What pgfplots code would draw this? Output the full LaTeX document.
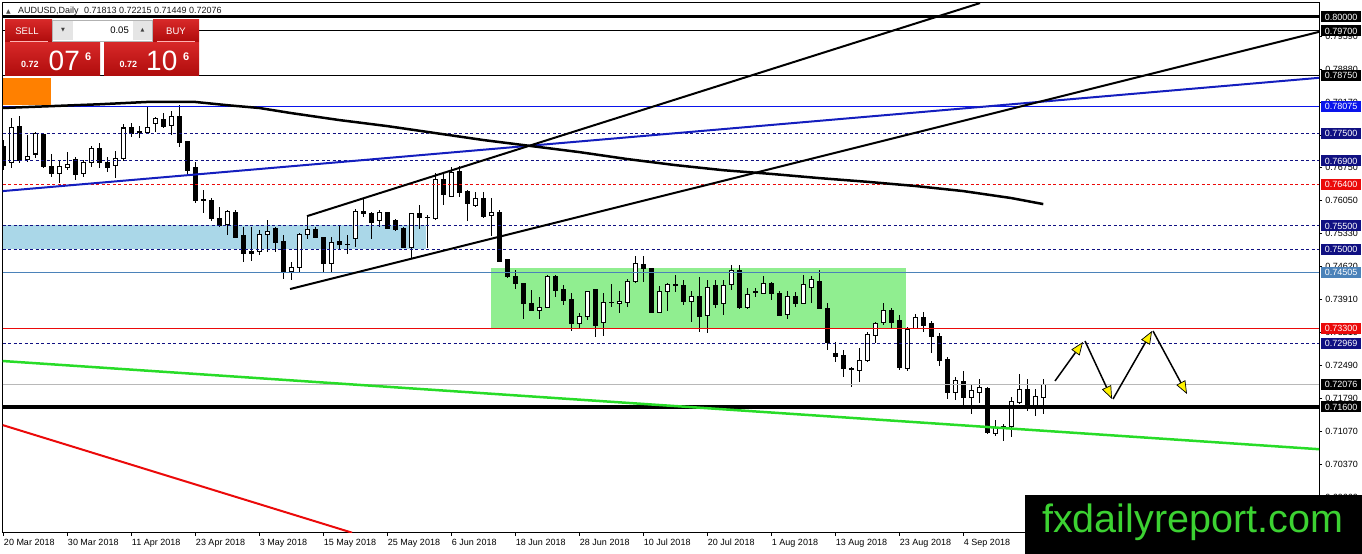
\documentclass[border=0pt]{standalone}
\usepackage{fontspec}
\setmainfont{Liberation Sans}
\newfontfamily\dejavu{DejaVu Sans}
\usepackage{pgfplots}
\usepackage{pgfplotstable}
\pgfplotsset{compat=1.18}
\usetikzlibrary{arrows.meta}
\definecolor{mtnavy}{RGB}{16,16,130}
\definecolor{mtblue}{RGB}{10,20,235}
\definecolor{mttrend}{RGB}{20,30,190}
\definecolor{mtsteel}{RGB}{75,130,185}
\definecolor{mtred}{RGB}{235,10,10}
\definecolor{mtgreen}{RGB}{40,220,40}
\definecolor{boxblue}{RGB}{170,215,232}
\definecolor{boxgreen}{RGB}{144,238,144}
\definecolor{redtop}{RGB}{215,40,40}
\definecolor{redbot}{RGB}{175,12,12}
\definecolor{wmgreen}{RGB}{60,210,50}
\newcommand\fs{\fontsize{9bp}{11bp}\selectfont}

\pgfplotstableread{
i o h l c
1 0.7686 0.7782 0.7675 0.7763
3 0.7692 0.7746 0.7688 0.7699
4 0.7705 0.7752 0.7696 0.7750
7 0.7664 0.7690 0.7642 0.7677
8 0.7675 0.7709 0.7670 0.7683
10 0.7662 0.7692 0.7655 0.7686
11 0.7686 0.7722 0.7677 0.7716
14 0.7681 0.7711 0.7653 0.7696
15 0.7696 0.7770 0.7690 0.7761
18 0.7752 0.7808 0.7750 0.7763
19 0.7770 0.7785 0.7752 0.7782
21 0.7767 0.7797 0.7746 0.7785
28 0.7554 0.7584 0.7530 0.7582
32 0.7494 0.7541 0.7487 0.7532
33 0.7532 0.7563 0.7494 0.7539
36 0.7451 0.7472 0.7434 0.7461
37 0.7461 0.7535 0.7451 0.7532
38 0.7532 0.7569 0.7522 0.7543
41 0.7470 0.7526 0.7448 0.7515
44 0.7522 0.7586 0.7504 0.7582
47 0.7561 0.7584 0.7548 0.7578
51 0.7504 0.7578 0.7478 0.7576
54 0.7565 0.7664 0.7563 0.7649
56 0.7614 0.7677 0.7612 0.7666
59 0.7593 0.7623 0.7591 0.7610
61 0.7573 0.7610 0.7528 0.7578
67 0.7367 0.7397 0.7349 0.7375
68 0.7375 0.7444 0.7375 0.7442
72 0.7339 0.7362 0.7330 0.7354
73 0.7354 0.7410 0.7347 0.7408
75 0.7341 0.7405 0.7313 0.7386
77 0.7384 0.7410 0.7362 0.7388
78 0.7386 0.7436 0.7375 0.7431
79 0.7431 0.7485 0.7427 0.7468
82 0.7364 0.7421 0.7362 0.7408
83 0.7408 0.7427 0.7367 0.7423
86 0.7388 0.7410 0.7343 0.7399
88 0.7356 0.7434 0.7319 0.7418
90 0.7382 0.7434 0.7358 0.7421
91 0.7423 0.7466 0.7412 0.7455
93 0.7375 0.7416 0.7371 0.7403
95 0.7405 0.7442 0.7405 0.7425
98 0.7360 0.7410 0.7349 0.7397
100 0.7384 0.7444 0.7384 0.7423
101 0.7418 0.7442 0.7384 0.7434
107 0.7238 0.7287 0.7214 0.7261
108 0.7261 0.7321 0.7257 0.7317
109 0.7315 0.7343 0.7298 0.7339
110 0.7343 0.7384 0.7336 0.7367
113 0.7244 0.7332 0.7238 0.7328
114 0.7330 0.7360 0.7330 0.7352
119 0.7192 0.7225 0.7175 0.7216
121 0.7180 0.7210 0.7145 0.7195
122 0.7192 0.7220 0.7169 0.7201
124 0.7104 0.7132 0.7098 0.7115
126 0.7117 0.7182 0.7095 0.7171
127 0.7169 0.7231 0.7167 0.7197
129 0.7156 0.7199 0.7141 0.7182
130 0.71813 0.72215 0.71449 0.72076
}\bull

\pgfplotstableread{
i o h l c
0 0.7720 0.7735 0.7670 0.7681
2 0.7765 0.7787 0.7686 0.7690
5 0.7748 0.7750 0.7675 0.7677
6 0.7679 0.7705 0.7655 0.7664
9 0.7692 0.7699 0.7649 0.7660
12 0.7716 0.7729 0.7675 0.7686
13 0.7686 0.7699 0.7666 0.7675
16 0.7761 0.7772 0.7742 0.7750
17 0.7754 0.7765 0.7739 0.7752
20 0.7780 0.7793 0.7761 0.7765
22 0.7785 0.7810 0.7720 0.7729
23 0.7731 0.7731 0.7660 0.7670
24 0.7675 0.7688 0.7599 0.7604
25 0.7606 0.7627 0.7578 0.7604
26 0.7604 0.7610 0.7561 0.7565
27 0.7565 0.7591 0.7548 0.7552
29 0.7578 0.7584 0.7526 0.7526
30 0.7530 0.7548 0.7472 0.7491
31 0.7494 0.7548 0.7474 0.7491
34 0.7545 0.7548 0.7494 0.7515
35 0.7517 0.7530 0.7436 0.7451
39 0.7543 0.7548 0.7524 0.7526
40 0.7526 0.7526 0.7448 0.7470
42 0.7517 0.7550 0.7500 0.7511
43 0.7511 0.7530 0.7489 0.7511
45 0.7582 0.7608 0.7569 0.7576
46 0.7576 0.7580 0.7522 0.7558
48 0.7578 0.7580 0.7545 0.7545
49 0.7561 0.7565 0.7539 0.7543
50 0.7545 0.7548 0.7504 0.7504
52 0.7576 0.7595 0.7543 0.7569
53 0.7569 0.7573 0.7502 0.7569
55 0.7649 0.7664 0.7595 0.7617
57 0.7668 0.7679 0.7612 0.7623
58 0.7625 0.7627 0.7561 0.7599
60 0.7610 0.7623 0.7567 0.7571
62 0.7578 0.7584 0.7472 0.7474
63 0.7478 0.7478 0.7438 0.7440
64 0.7442 0.7455 0.7414 0.7425
65 0.7425 0.7427 0.7349 0.7382
66 0.7382 0.7412 0.7367 0.7367
69 0.7442 0.7444 0.7397 0.7412
70 0.7414 0.7423 0.7380 0.7390
71 0.7392 0.7405 0.7324 0.7339
74 0.7414 0.7414 0.7311 0.7336
76 0.7386 0.7425 0.7375 0.7386
80 0.7468 0.7485 0.7429 0.7459
81 0.7459 0.7459 0.7362 0.7364
84 0.7423 0.7444 0.7408 0.7423
85 0.7421 0.7434 0.7380 0.7388
87 0.7397 0.7440 0.7321 0.7356
89 0.7421 0.7434 0.7373 0.7380
92 0.7455 0.7466 0.7371 0.7375
94 0.7408 0.7416 0.7397 0.7408
96 0.7425 0.7429 0.7390 0.7405
97 0.7405 0.7410 0.7358 0.7358
99 0.7397 0.7408 0.7375 0.7384
102 0.7431 0.7455 0.7373 0.7373
103 0.7373 0.7384 0.7283 0.7298
104 0.7276 0.7300 0.7257 0.7268
105 0.7270 0.7283 0.7225 0.7242
106 0.7242 0.7246 0.7203 0.7242
111 0.7367 0.7373 0.7330 0.7343
112 0.7347 0.7358 0.7240 0.7246
115 0.7352 0.7364 0.7321 0.7336
116 0.7339 0.7345 0.7276 0.7311
117 0.7311 0.7319 0.7248 0.7261
118 0.7263 0.7268 0.7177 0.7192
120 0.7216 0.7238 0.7164 0.7180
123 0.7199 0.7203 0.7102 0.7104
125 0.7119 0.7123 0.7087 0.7119
128 0.7197 0.7220 0.7151 0.7156
}\bear

\pgfplotsset{
  candleerr/.style 2 args={draw=none, forget plot,
    error bars/.cd, y dir=both, y explicit, error mark=none,
    error bar style={draw=#1, line width=#2, solid, line cap=butt}},
  hline/.style={forget plot, line cap=butt},
}
\tikzset{lbl/.style={anchor=west, xshift=1.8bp, inner sep=0pt, minimum width=40bp, minimum height=11bp, text=white, font=\fs}}

\begin{document}
\begin{tikzpicture}
\path[use as bounding box] (0,0) rectangle (1362bp,554bp);
\begin{axis}[
  at={(2.7bp,21.3bp)}, anchor=south west,
  scale only axis, width=1316.5bp, height=530bp,
  xmin=-0.075, xmax=164.49, ymin=0.68892, ymax=0.80308,
  clip mode=individual, no markers,
  axis line style={black, line width=0.9bp},
  tick align=outside, major tick length=3bp,
  tick style={black, line width=0.8bp},
  scaled y ticks=false,
  xtick={0,8,...,120}, xtick pos=lower,
  xticklabels={20 Mar 2018,30 Mar 2018,11 Apr 2018,23 Apr 2018,3 May 2018,15 May 2018,25 May 2018,6 Jun 2018,18 Jun 2018,28 Jun 2018,10 Jul 2018,20 Jul 2018,1 Aug 2018,13 Aug 2018,23 Aug 2018,4 Sep 2018},
  xticklabel style={font=\fs, anchor=base west, inner sep=0pt, xshift=0.5bp, yshift=-10bp},
  ytick={0.6966,0.7037,0.7107,0.7179,0.7249,0.7321,0.7391,0.7462,0.7533,0.7605,0.7675,0.7746,0.7817,0.7888,0.7959},
  yticklabels={0.69660,0.70370,0.71070,0.71790,0.72490,0.73210,0.73910,0.74620,0.75330,0.76050,0.76750,0.77460,0.78170,0.78880,0.79590},
  ytick pos=right, yticklabel pos=right,
  yticklabel style={font=\fs, anchor=west, inner sep=0pt, xshift=3bp},
]
% background rectangles
\addplot[fill=boxblue, draw=none, forget plot] coordinates {(-0.075,0.7500) (52.9,0.7500) (52.9,0.7552) (-0.075,0.7552)} -- cycle;
\addplot[fill=boxgreen, draw=none, forget plot] coordinates {(60.96,0.7330) (112.9,0.7330) (112.9,0.7459) (60.96,0.7459)} -- cycle;

% candles: wicks
\addplot[candleerr={black}{1bp}] table[x=i, y expr={(\thisrow{h}+\thisrow{l})/2}, y error expr={(\thisrow{h}-\thisrow{l})/2}] {\bull};
\addplot[candleerr={black}{1bp}] table[x=i, y expr={(\thisrow{h}+\thisrow{l})/2}, y error expr={(\thisrow{h}-\thisrow{l})/2}] {\bear};
% bodies
\addplot[candleerr={black}{5bp}] table[x=i, y expr={(\thisrow{o}+\thisrow{c})/2}, y error expr={abs(\thisrow{o}-\thisrow{c})/2+0.000108}] {\bear};
\addplot[candleerr={black}{5bp}] table[x=i, y expr={(\thisrow{o}+\thisrow{c})/2}, y error expr={(\thisrow{c}-\thisrow{o})/2+0.000108}] {\bull};
\addplot[candleerr={white}{3bp}] table[x=i, y expr={(\thisrow{o}+\thisrow{c})/2}, y error expr={(\thisrow{c}-\thisrow{o})/2-0.000108}] {\bull};

% horizontal levels
\addplot[hline, black, line width=3bp] coordinates {(-0.075,0.80000) (164.49,0.80000)};
\addplot[hline, black, line width=1bp] coordinates {(-0.075,0.79700) (164.49,0.79700)};
\addplot[hline, black, line width=1bp] coordinates {(-0.075,0.78750) (164.49,0.78750)};
\addplot[hline, mtblue, line width=1bp] coordinates {(-0.075,0.78075) (164.49,0.78075)};
\addplot[hline, mtnavy, line width=1bp, dash pattern=on 3bp off 2.5bp] coordinates {(-0.075,0.77500) (164.49,0.77500)};
\addplot[hline, mtnavy, line width=1bp, dash pattern=on 3bp off 2.5bp] coordinates {(-0.075,0.76900) (164.49,0.76900)};
\addplot[hline, mtred, line width=1bp, dash pattern=on 3bp off 2.5bp] coordinates {(-0.075,0.76400) (164.49,0.76400)};
\addplot[hline, mtnavy, line width=1bp, dash pattern=on 3bp off 2.5bp] coordinates {(-0.075,0.75500) (164.49,0.75500)};
\addplot[hline, mtnavy, line width=1bp, dash pattern=on 3bp off 2.5bp] coordinates {(-0.075,0.75000) (164.49,0.75000)};
\addplot[hline, mtsteel, line width=1bp] coordinates {(-0.075,0.74505) (164.49,0.74505)};
\addplot[hline, mtred, line width=1bp] coordinates {(-0.075,0.73300) (164.49,0.73300)};
\addplot[hline, mtnavy, line width=1bp, dash pattern=on 3bp off 2.5bp] coordinates {(-0.075,0.72969) (164.49,0.72969)};
\addplot[hline, black!28, line width=1bp] coordinates {(-0.075,0.72076) (164.49,0.72076)};
\addplot[hline, black, line width=4bp] coordinates {(-0.075,0.71600) (164.49,0.71600)};

% trend lines
\addplot[forget plot, mttrend, line width=2bp] coordinates {(-0.075,0.7625) (164.49,0.7869)};
\addplot[forget plot, black, line width=2bp] coordinates {(37.96,0.7571) (122.09,0.8030)};
\addplot[forget plot, black, line width=2bp] coordinates {(35.84,0.7414) (164.49,0.7968)};
\addplot[forget plot, mtgreen, line width=2.5bp] coordinates {(-0.075,0.7259) (164.49,0.7069)};
\addplot[forget plot, mtred, line width=2bp] coordinates {(-0.075,0.7121) (43.6,0.68892)};

% moving average
\addplot[forget plot, black, line width=2.5bp, line join=round] coordinates {
(-0.075,0.7804) (6,0.7808) (12,0.7812) (18,0.7817) (24,0.7817) (28,0.7810) (32,0.7804) (36,0.7793)
(42,0.7778) (48,0.7765) (54,0.7750) (60,0.7735) (66,0.7722) (72,0.7709) (78,0.7694) (84,0.7681)
(90,0.7670) (96,0.7662) (102,0.7653) (108,0.7645) (114,0.7636) (120,0.7625) (126,0.7610) (130,0.7597)};

\coordinate (L1) at (axis cs:164.49,0.80000);
\coordinate (L2) at (axis cs:164.49,0.79700);
\coordinate (L3) at (axis cs:164.49,0.78750);
\coordinate (L4) at (axis cs:164.49,0.78075);
\coordinate (L5) at (axis cs:164.49,0.77500);
\coordinate (L6) at (axis cs:164.49,0.76900);
\coordinate (L7) at (axis cs:164.49,0.76400);
\coordinate (L8) at (axis cs:164.49,0.75500);
\coordinate (L9) at (axis cs:164.49,0.75000);
\coordinate (L10) at (axis cs:164.49,0.74505);
\coordinate (L11) at (axis cs:164.49,0.73300);
\coordinate (L12) at (axis cs:164.49,0.72969);
\coordinate (L13) at (axis cs:164.49,0.72076);
\coordinate (L14) at (axis cs:164.49,0.71600);
\end{axis}

% price boxes on the right scale
\node[lbl, fill=black] at (L1) {0.80000};
\node[lbl, fill=black] at (L2) {0.79700};
\node[lbl, fill=black] at (L3) {0.78750};
\node[lbl, fill=mtblue] at (L4) {0.78075};
\node[lbl, fill=mtnavy] at (L5) {0.77500};
\node[lbl, fill=mtnavy] at (L6) {0.76900};
\node[lbl, fill=mtred] at (L7) {0.76400};
\node[lbl, fill=mtnavy] at (L8) {0.75500};
\node[lbl, fill=mtnavy] at (L9) {0.75000};
\node[lbl, fill=mtsteel] at (L10) {0.74505};
\node[lbl, fill=mtred] at (L11) {0.73300};
\node[lbl, fill=mtnavy] at (L12) {0.72969};
\node[lbl, fill=black] at (L13) {0.72076};
\node[lbl, fill=black] at (L14) {0.71600};

\begin{scope}[x=1bp, y=-1bp, yshift=554bp]
% orange box
\fill[orange] (2.7,78) rectangle (51,105);
% header
\node[anchor=base west, inner sep=0pt, text=black!70, font=\dejavu\fontsize{6bp}{7bp}\selectfont] at (6,13.5) {▲};
\node[anchor=base west, inner sep=0pt, text=black!90, font=\fs] at (18,13.5) {AUDUSD,Daily\hspace{0.6em}0.71813 0.72215 0.71449 0.72076};
% trade panel
\shade[top color=redtop, bottom color=redbot] (5,20) rectangle (52,41.5);
\shade[top color=redtop, bottom color=redbot] (153,20) rectangle (199,41.5);
\fill[white] (52,20) rectangle (153,41.5);
\draw[black!30, line width=0.6bp] (52.3,20.3) rectangle (152.7,41.2);
\fill[black!10] (53,21) rectangle (73,40.5);
\fill[black!10] (132.5,21) rectangle (152,40.5);
\shade[top color=redtop, bottom color=redbot] (5,42.5) rectangle (100,76);
\shade[top color=redtop, bottom color=redbot] (104,42.5) rectangle (199,76);
\draw[white!70!red, line width=0.6bp] (10,41.8) -- (48,41.8);
\draw[white!70!red, line width=0.6bp] (157,41.8) -- (195,41.8);
\node[text=white, font=\fontsize{9.5bp}{11bp}\selectfont] at (27,31) {SELL};
\node[text=white, font=\fontsize{9.5bp}{11bp}\selectfont] at (176,31) {BUY};
\node[anchor=east, inner sep=0pt, font=\fontsize{9.5bp}{11bp}\selectfont] at (129,30.5) {0.05};
\node[text=black!75, font=\dejavu\fontsize{5bp}{6bp}\selectfont] at (63,30.5) {▼};
\node[text=black!75, font=\dejavu\fontsize{5bp}{6bp}\selectfont] at (142.5,30.5) {▲};
\node[anchor=base west, inner sep=0pt, text=white, font=\bfseries\fontsize{9bp}{10bp}\selectfont] at (21,68) {0.72};
\node[anchor=base west, inner sep=0pt, text=white, font=\fontsize{28bp}{30bp}\selectfont] at (48.5,71) {07};
\node[anchor=base west, inner sep=0pt, text=white, font=\bfseries\fontsize{11bp}{12bp}\selectfont] at (85,61) {6};
\node[anchor=base west, inner sep=0pt, text=white, font=\bfseries\fontsize{9bp}{10bp}\selectfont] at (119.5,68) {0.72};
\node[anchor=base west, inner sep=0pt, text=white, font=\fontsize{28bp}{30bp}\selectfont] at (146,71) {10};
\node[anchor=base west, inner sep=0pt, text=white, font=\bfseries\fontsize{11bp}{12bp}\selectfont] at (183,61) {6};
% projected path arrows
\draw[black, line width=1.5bp, -{Triangle[length=13bp, width=10bp, fill=yellow, line width=0.7bp]}] (1055,381) -- (1083,342);
\draw[black, line width=1.5bp, -{Triangle[length=13bp, width=10bp, fill=yellow, line width=0.7bp]}] (1085,341) -- (1112,399);
\draw[black, line width=1.5bp, -{Triangle[length=13bp, width=10bp, fill=yellow, line width=0.7bp]}] (1113,399) -- (1152,331);
\draw[black, line width=1.5bp, -{Triangle[length=13bp, width=10bp, fill=yellow, line width=0.7bp]}] (1153,331) -- (1187,394);
% watermark
\fill[black] (1025,495) rectangle (1362,554);
\node[anchor=base west, inner sep=0pt, text=wmgreen, font=\fontsize{39.5bp}{44bp}\selectfont] at (1042,533) {fxdailyreport.com};
\end{scope}
\end{tikzpicture}
\end{document}
